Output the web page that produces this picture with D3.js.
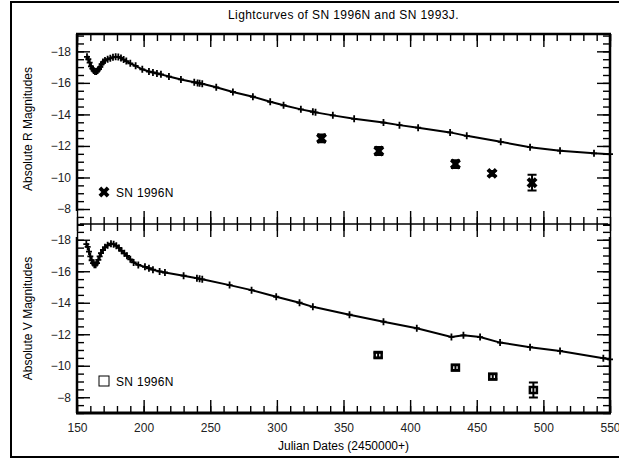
<!DOCTYPE html>
<html>
<head>
<meta charset="utf-8">
<script src="https://cdn.jsdelivr.net/npm/d3@7"></script>
<style>
  html, body { margin: 0; padding: 0; background: #fff; }
  svg { display: block; font-family: "Liberation Sans", Arial, Helvetica, sans-serif; }
</style>
</head>
<body>
<svg id="chart" width="619" height="462"></svg>
<script>
// ---- data -------------------------------------------------------------
// SN 1993J, R band (Julian date - 2450000, absolute magnitude)
const r93Days = [157.5,158.5,159.5,160.5,161.5,162.5,163.5,164.5,165.5,166.5,167.5,168.5,169.5,171,173,175,177,179,181,183,185,187,190,194,199,204,207,210,213,219,228,238,240.5,242,244,254.5,267,282,295,305,318,327,329,342,358,380,392,406,430,442.5,468,490,512.5,538,550];
const r93Mags = [-17.65,-17.50,-17.28,-17.05,-16.90,-16.78,-16.72,-16.72,-16.78,-16.88,-17.02,-17.18,-17.32,-17.42,-17.50,-17.56,-17.62,-17.65,-17.64,-17.58,-17.48,-17.38,-17.24,-17.08,-16.86,-16.72,-16.66,-16.60,-16.54,-16.40,-16.22,-16.04,-16.00,-15.97,-15.94,-15.72,-15.42,-15.12,-14.80,-14.58,-14.32,-14.17,-14.13,-13.94,-13.72,-13.48,-13.32,-13.16,-12.86,-12.64,-12.26,-11.92,-11.70,-11.53,-11.48];

// SN 1993J, V band
const v93Days = [157,158,159,160,161,162,163,164,165,166,167,168,169.5,171,173,175.5,177.5,179.5,181.5,183.5,185.5,187.5,190,192.5,196,201,204,207,212,216,230,240,242,244,264.5,281,299.5,317,327,354.5,380,405,431,440,452.5,467.5,490,512.5,545,550];
const v93Mags = [-17.72,-17.55,-17.25,-16.95,-16.70,-16.52,-16.42,-16.42,-16.52,-16.72,-16.95,-17.15,-17.35,-17.52,-17.65,-17.75,-17.72,-17.62,-17.48,-17.30,-17.14,-16.98,-16.76,-16.56,-16.40,-16.28,-16.19,-16.10,-15.99,-15.92,-15.72,-15.56,-15.52,-15.49,-15.12,-14.80,-14.38,-14.00,-13.74,-13.24,-12.80,-12.38,-11.83,-11.93,-11.82,-11.47,-11.18,-10.94,-10.48,-10.40];

// SN 1996N, R band with errors
const r96Days = [333.5, 376.5, 434, 461.5, 491.5];
const r96Mags = [-12.48, -11.68, -10.85, -10.26, -9.67];
const r96Errs = [0.25, 0.25, 0.25, 0.15, 0.5];

// SN 1996N, V band with errors
const v96Days = [376, 434, 462, 492.5];
const v96Mags = [-10.68, -9.88, -9.31, -8.46];
const v96Errs = [0.15, 0.15, 0.15, 0.48];

// axis ticks
const xMajorTicks = [150, 200, 250, 300, 350, 400, 450, 500, 550];
const xMinorTicks = d3.range(150, 551, 10);
const yMajorTicks = [-18, -16, -14, -12, -10, -8];
const yMinorTicks = d3.range(-19, -6.9, 0.5);

// ---- layout -----------------------------------------------------------
const svg = d3.select("#chart");
const plotLeft = 77, plotRight = 610, plotTop = 34, plotMid = 224, plotBottom = 413;
const majorLen = 13, minorLen = 7;

const x = d3.scaleLinear().domain([150, 550]).range([plotLeft, plotRight]);
const yR = d3.scaleLinear().domain([-19.1, -7.05]).range([plotTop, plotMid]);
const yV = d3.scaleLinear().domain([-19, -7]).range([plotMid, plotBottom]);

svg.append("rect").attr("width", 619).attr("height", 462).attr("fill", "#fff");

// outer frame
svg.append("rect")
  .attr("x", 11).attr("y", 2).attr("width", 612).attr("height", 455)
  .attr("fill", "none").attr("stroke", "#000").attr("stroke-width", 2);

// title
svg.append("text")
  .attr("x", (plotLeft + plotRight) / 2).attr("y", 19)
  .attr("text-anchor", "middle").attr("font-size", 12).attr("letter-spacing", 0.4)
  .text("Lightcurves of SN 1996N and SN 1993J.");

function styleAxis(g) {
  g.select(".domain").remove();
  g.selectAll(".tick line").attr("stroke", "#000").attr("stroke-width", 1.4);
  g.selectAll(".tick text").attr("font-size", 12).attr("fill", "#222")
    .attr("font-family", "Liberation Sans, Arial, sans-serif");
}

function drawPanel(y, lineTop, lineBot) {
  // left axis: minor + labelled major ticks pointing inward
  svg.append("g").attr("transform", `translate(${plotLeft},0)`)
    .call(d3.axisLeft(y).tickValues(yMinorTicks).tickSize(-minorLen).tickFormat(""))
    .call(styleAxis);
  svg.append("g").attr("transform", `translate(${plotLeft},0)`)
    .call(d3.axisLeft(y).tickValues(yMajorTicks).tickSize(-majorLen).tickPadding(6)
      .tickFormat(d3.format("d")))
    .call(styleAxis);
  // right axis mirrored, no labels
  svg.append("g").attr("transform", `translate(${plotRight},0)`)
    .call(d3.axisRight(y).tickValues(yMinorTicks).tickSize(-minorLen).tickFormat(""))
    .call(styleAxis);
  svg.append("g").attr("transform", `translate(${plotRight},0)`)
    .call(d3.axisRight(y).tickValues(yMajorTicks).tickSize(-majorLen).tickFormat(""))
    .call(styleAxis);
  // vertical frame lines
  [plotLeft, plotRight].forEach(px => {
    svg.append("line").attr("x1", px).attr("x2", px)
      .attr("y1", lineTop).attr("y2", lineBot)
      .attr("stroke", "#000").attr("stroke-width", 2.5);
  });
}

// horizontal axes with inward ticks
function hAxis(yPos, dir, showLabels, thick, x0, x1) {
  const make = dir === "down" ? d3.axisTop : d3.axisBottom;
  svg.append("g").attr("transform", `translate(0,${yPos})`)
    .call(make(x).tickValues(xMinorTicks).tickSize(-minorLen).tickFormat(""))
    .call(styleAxis);
  svg.append("g").attr("transform", `translate(0,${yPos})`)
    .call(make(x).tickValues(xMajorTicks).tickSize(-majorLen)
      .tickPadding(showLabels ? 10 : 0).tickFormat(showLabels ? d3.format("d") : ""))
    .call(styleAxis);
  svg.append("line").attr("x1", x0).attr("x2", x1).attr("y1", yPos).attr("y2", yPos)
    .attr("stroke", "#000").attr("stroke-width", thick);
}

drawPanel(yR, plotTop, plotMid - majorLen);
drawPanel(yV, plotMid + majorLen, plotBottom);

hAxis(plotTop, "down", false, 2.5, plotLeft - 1, plotRight + 1);
hAxis(plotMid, "up", false, 1, plotLeft + 3, plotRight - 2);
hAxis(plotMid, "down", false, 1, plotLeft + 3, plotRight - 2);
hAxis(plotBottom, "up", true, 3, plotLeft - 1, plotRight + 1);

// axis titles
svg.append("text")
  .attr("transform", `translate(32,${(plotTop + plotMid) / 2}) rotate(-90)`)
  .attr("text-anchor", "middle").attr("font-size", 12)
  .text("Absolute R Magnitudes");
svg.append("text")
  .attr("transform", `translate(32,${(plotMid + plotBottom) / 2}) rotate(-90)`)
  .attr("text-anchor", "middle").attr("font-size", 12)
  .text("Absolute V Magnitudes");
svg.append("text")
  .attr("x", (plotLeft + plotRight) / 2).attr("y", 450)
  .attr("text-anchor", "middle").attr("font-size", 12)
  .text("Julian Dates (2450000+)");

// ---- SN 1993J curves with plus markers --------------------------------
function curve(days, mags, y) {
  const pts = days.map((d, i) => [d, mags[i]]);
  svg.append("path").datum(pts)
    .attr("fill", "none").attr("stroke", "#000").attr("stroke-width", 2)
    .attr("d", d3.line().x(d => x(d[0])).y(d => y(d[1])));
  svg.append("g").selectAll("path").data(pts).join("path")
    .attr("transform", d => `translate(${x(d[0])},${y(d[1])})`)
    .attr("d", "M-3,0H3M0,-3.5V3.5")
    .attr("stroke", "#000").attr("stroke-width", 1.8).attr("fill", "none");
}
curve(r93Days, r93Mags, yR);
curve(v93Days, v93Mags, yV);

// ---- SN 1996N points with error bars ----------------------------------
function errorBars(days, mags, errs, y) {
  const g = svg.append("g");
  days.forEach((d, i) => {
    const cx = x(d), y0 = y(mags[i] - errs[i]), y1 = y(mags[i] + errs[i]);
    g.append("path")
      .attr("d", `M${cx},${y0}V${y1}M${cx - 4.5},${y0}H${cx + 4.5}M${cx - 4.5},${y1}H${cx + 4.5}`)
      .attr("stroke", "#000").attr("stroke-width", 2).attr("fill", "none");
  });
}
errorBars(r96Days, r96Mags, r96Errs, yR);
errorBars(v96Days, v96Mags, v96Errs, yV);

const xMark = d3.symbol().type(d3.symbolCross).size(75);
svg.append("g").selectAll("path").data(r96Days).join("path")
  .attr("transform", (d, i) => `translate(${x(d)},${yR(r96Mags[i])}) rotate(45)`)
  .attr("d", xMark()).attr("fill", "#000");

svg.append("g").selectAll("rect").data(v96Days).join("rect")
  .attr("x", d => x(d) - 3.5).attr("y", (d, i) => yV(v96Mags[i]) - 3)
  .attr("width", 7).attr("height", 6)
  .attr("fill", "none").attr("stroke", "#000").attr("stroke-width", 2.5);

// ---- legends ----------------------------------------------------------
svg.append("path")
  .attr("transform", "translate(104,192) rotate(45)")
  .attr("d", xMark()).attr("fill", "#000");
svg.append("text").attr("x", 116).attr("y", 196.5).attr("font-size", 12)
  .attr("letter-spacing", 0.3).text("SN 1996N");

svg.append("rect").attr("x", 99).attr("y", 376).attr("width", 10).attr("height", 10)
  .attr("fill", "none").attr("stroke", "#000").attr("stroke-width", 1);
svg.append("text").attr("x", 116).attr("y", 385.5).attr("font-size", 12)
  .attr("letter-spacing", 0.3).text("SN 1996N");
</script>
</body>
</html>
